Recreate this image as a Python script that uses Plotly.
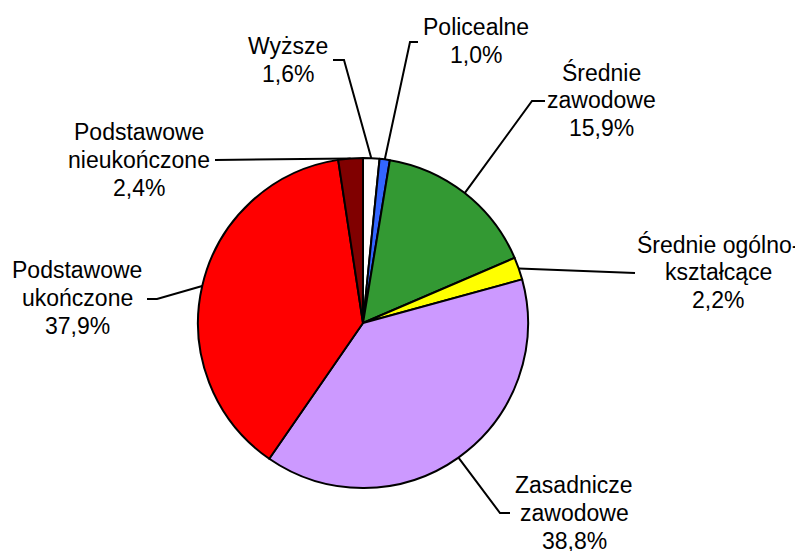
import math
import plotly.graph_objects as go

# data, clockwise from 12 o'clock
categories = ["Wyższe", "Policealne", "Średnie zawodowe", "Średnie ogólnokształcące",
              "Zasadnicze zawodowe", "Podstawowe ukończone", "Podstawowe nieukończone"]
shares = [1.6, 1.0, 15.9, 2.2, 38.8, 37.9, 2.4]
label_lines = [["Wyższe"], ["Policealne"], ["Średnie", "zawodowe"], ["Średnie ogólno-", "kształcące"],
               ["Zasadnicze", "zawodowe"], ["Podstawowe", "ukończone"], ["Podstawowe", "nieukończone"]]
colors = ["#FFFFFF", "#3366FF", "#339933", "#FFFF00", "#CC99FF", "#FF0000", "#800000"]

# layout, in page pixels (the page body has an 8px margin)
W, H = 803, 551
OFF = 8
FW, FH = W - OFF, H - OFF
CX, CY, R = 363, 323, 165
FONT = dict(family="Liberation Sans, Arial, sans-serif", size=23, color="black")
LINE_H = 28
label_centers = [(288, 60), (476, 41), (601, 100), (718, 272), (574, 513), (77, 298), (139, 160)]
# leader points from the label end towards the elbow (the slice point is added after)
leader_pts = [
    [(333, 60), (344, 60)],
    [(418, 42), (410, 42)],
    [(545, 101), (532, 101)],
    [(635, 273)],
    [(510, 513), (500, 513)],
    [(147, 299), (157, 299)],
    [(215, 160)],
]

fig = go.Figure()

fig.add_trace(go.Pie(
    labels=categories, values=shares, sort=False, direction="clockwise", rotation=0,
    marker=dict(colors=colors, line=dict(color="black", width=2)),
    textinfo="none", hoverinfo="none", showlegend=False,
    domain=dict(x=[(CX - R - OFF) / FW, (CX + R - OFF) / FW],
                y=[(H - (CY + R)) / FH, (H - (CY - R)) / FH]),
))

total = sum(shares)
cum = 0
annotations = []
for i, v in enumerate(shares):
    mid = (cum + v / 2) / total * 2 * math.pi
    cum += v
    px_ = CX + R * math.sin(mid)
    py_ = CY - R * math.cos(mid)
    pts = leader_pts[i] + [(px_, py_)]
    fig.add_trace(go.Scatter(x=[p[0] for p in pts], y=[p[1] for p in pts], mode="lines",
                             line=dict(color="black", width=2), hoverinfo="skip", showlegend=False))

    lines = label_lines[i] + [f"{v:.1f}%".replace(".", ",")]
    lx, ly = label_centers[i]
    y0 = ly - (len(lines) - 1) * LINE_H / 2
    for k, t in enumerate(lines):
        annotations.append(dict(x=lx, y=y0 + k * LINE_H, xref="x", yref="y", text=t, showarrow=False,
                                font=FONT, xanchor="center", yanchor="middle"))

fig.update_layout(
    width=FW, height=FH,
    margin=dict(l=0, r=0, t=0, b=0),
    paper_bgcolor="white", plot_bgcolor="rgba(0,0,0,0)",
    xaxis=dict(range=[OFF, W], visible=False, fixedrange=True),
    yaxis=dict(range=[H, OFF], visible=False, fixedrange=True),
    annotations=annotations,
)

fig.write_html("out.html")
